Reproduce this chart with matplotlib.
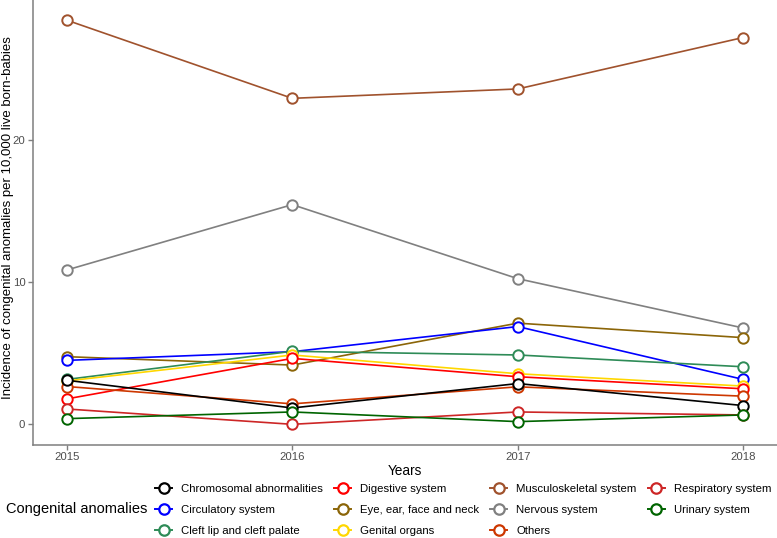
import matplotlib
matplotlib.use('Agg')
import matplotlib.pyplot as plt
from matplotlib.lines import Line2D

plt.rcParams['font.family'] = ['Liberation Sans', 'DejaVu Sans']

# Daten
years = [2015, 2016, 2017, 2018]

chromosomal = [3.10, 1.15, 2.87, 1.32]
circulatory = [4.50, 5.11, 6.88, 3.16]
cleft_lip = [3.16, 5.14, 4.88, 4.05]
digestive = [1.79, 4.64, 3.35, 2.50]
eye_ear = [4.76, 4.17, 7.12, 6.10]
genital = [3.05, 4.88, 3.56, 2.69]
musculoskeletal = [28.44, 22.94, 23.60, 27.22]
nervous = [10.86, 15.46, 10.25, 6.78]
others = [2.66, 1.44, 2.64, 1.98]
respiratory = [1.08, 0.00, 0.87, 0.66]
urinary = [0.40, 0.87, 0.19, 0.66]

labels = ['Chromosomal abnormalities', 'Circulatory system', 'Cleft lip and cleft palate',
          'Digestive system', 'Eye, ear, face and neck', 'Genital organs',
          'Musculoskeletal system', 'Nervous system', 'Others',
          'Respiratory system', 'Urinary system']
series = [chromosomal, circulatory, cleft_lip, digestive, eye_ear, genital,
          musculoskeletal, nervous, others, respiratory, urinary]
colors = ['#000000', '#0000FF', '#2E8B57', '#FF0000', '#8B6508', '#FFD700',
          '#A0522D', '#808080', '#CD3700', '#CD2626', '#006400']

# Zeichenreihenfolge grob wie im Original
draw_order = [6, 7, 4, 1, 2, 5, 3, 8, 0, 9, 10]

fig = plt.figure(figsize=(7.77, 5.38), dpi=100)
ax = fig.add_axes([33 / 777, (538 - 444.5) / 538, 744 / 777, 444.5 / 538])

for i in draw_order:
    ax.plot(years, series[i], color=colors[i], lw=1.2, marker='o', ms=7.5,
            mfc='white', mec=colors[i], mew=1.4, zorder=3)

ax.set_xlim(2014.85, 2018.15)
ax.set_ylim(-1.42, 29.86)
ax.set_xticks(years)
ax.set_yticks([0, 10, 20])

for s in ['top', 'right']:
    ax.spines[s].set_visible(False)
for s in ['left', 'bottom']:
    ax.spines[s].set_color('#7f7f7f')
    ax.spines[s].set_linewidth(1.1)
ax.tick_params(colors='#7f7f7f', length=3.5, width=1.0, labelsize=8.2,
               labelcolor='#4d4d4d', pad=2)

ax.set_xlabel('Years', fontsize=9.8, labelpad=1)
ax.set_ylabel('Incidence of congenital anomalies per 10,000 live born-babies',
              fontsize=9.5)
ax.yaxis.set_label_coords(-0.0255, 0.51)

handles = [Line2D([], [], color=c, lw=1.4, marker='o', ms=7.5, mfc='white',
                  mec=c, mew=1.6) for c in colors]
fig.legend(handles, labels, ncol=4, loc='upper left',
           bbox_to_anchor=(145 / 777, 1 - 474 / 538), frameon=False,
           fontsize=8.2, handlelength=1.5, handletextpad=0.8,
           columnspacing=0.95, labelspacing=0.97)
fig.text(6 / 777, 1 - 509 / 538, 'Congenital anomalies', fontsize=10.5,
         va='center', ha='left')

fig.savefig('out.png', dpi=100)
